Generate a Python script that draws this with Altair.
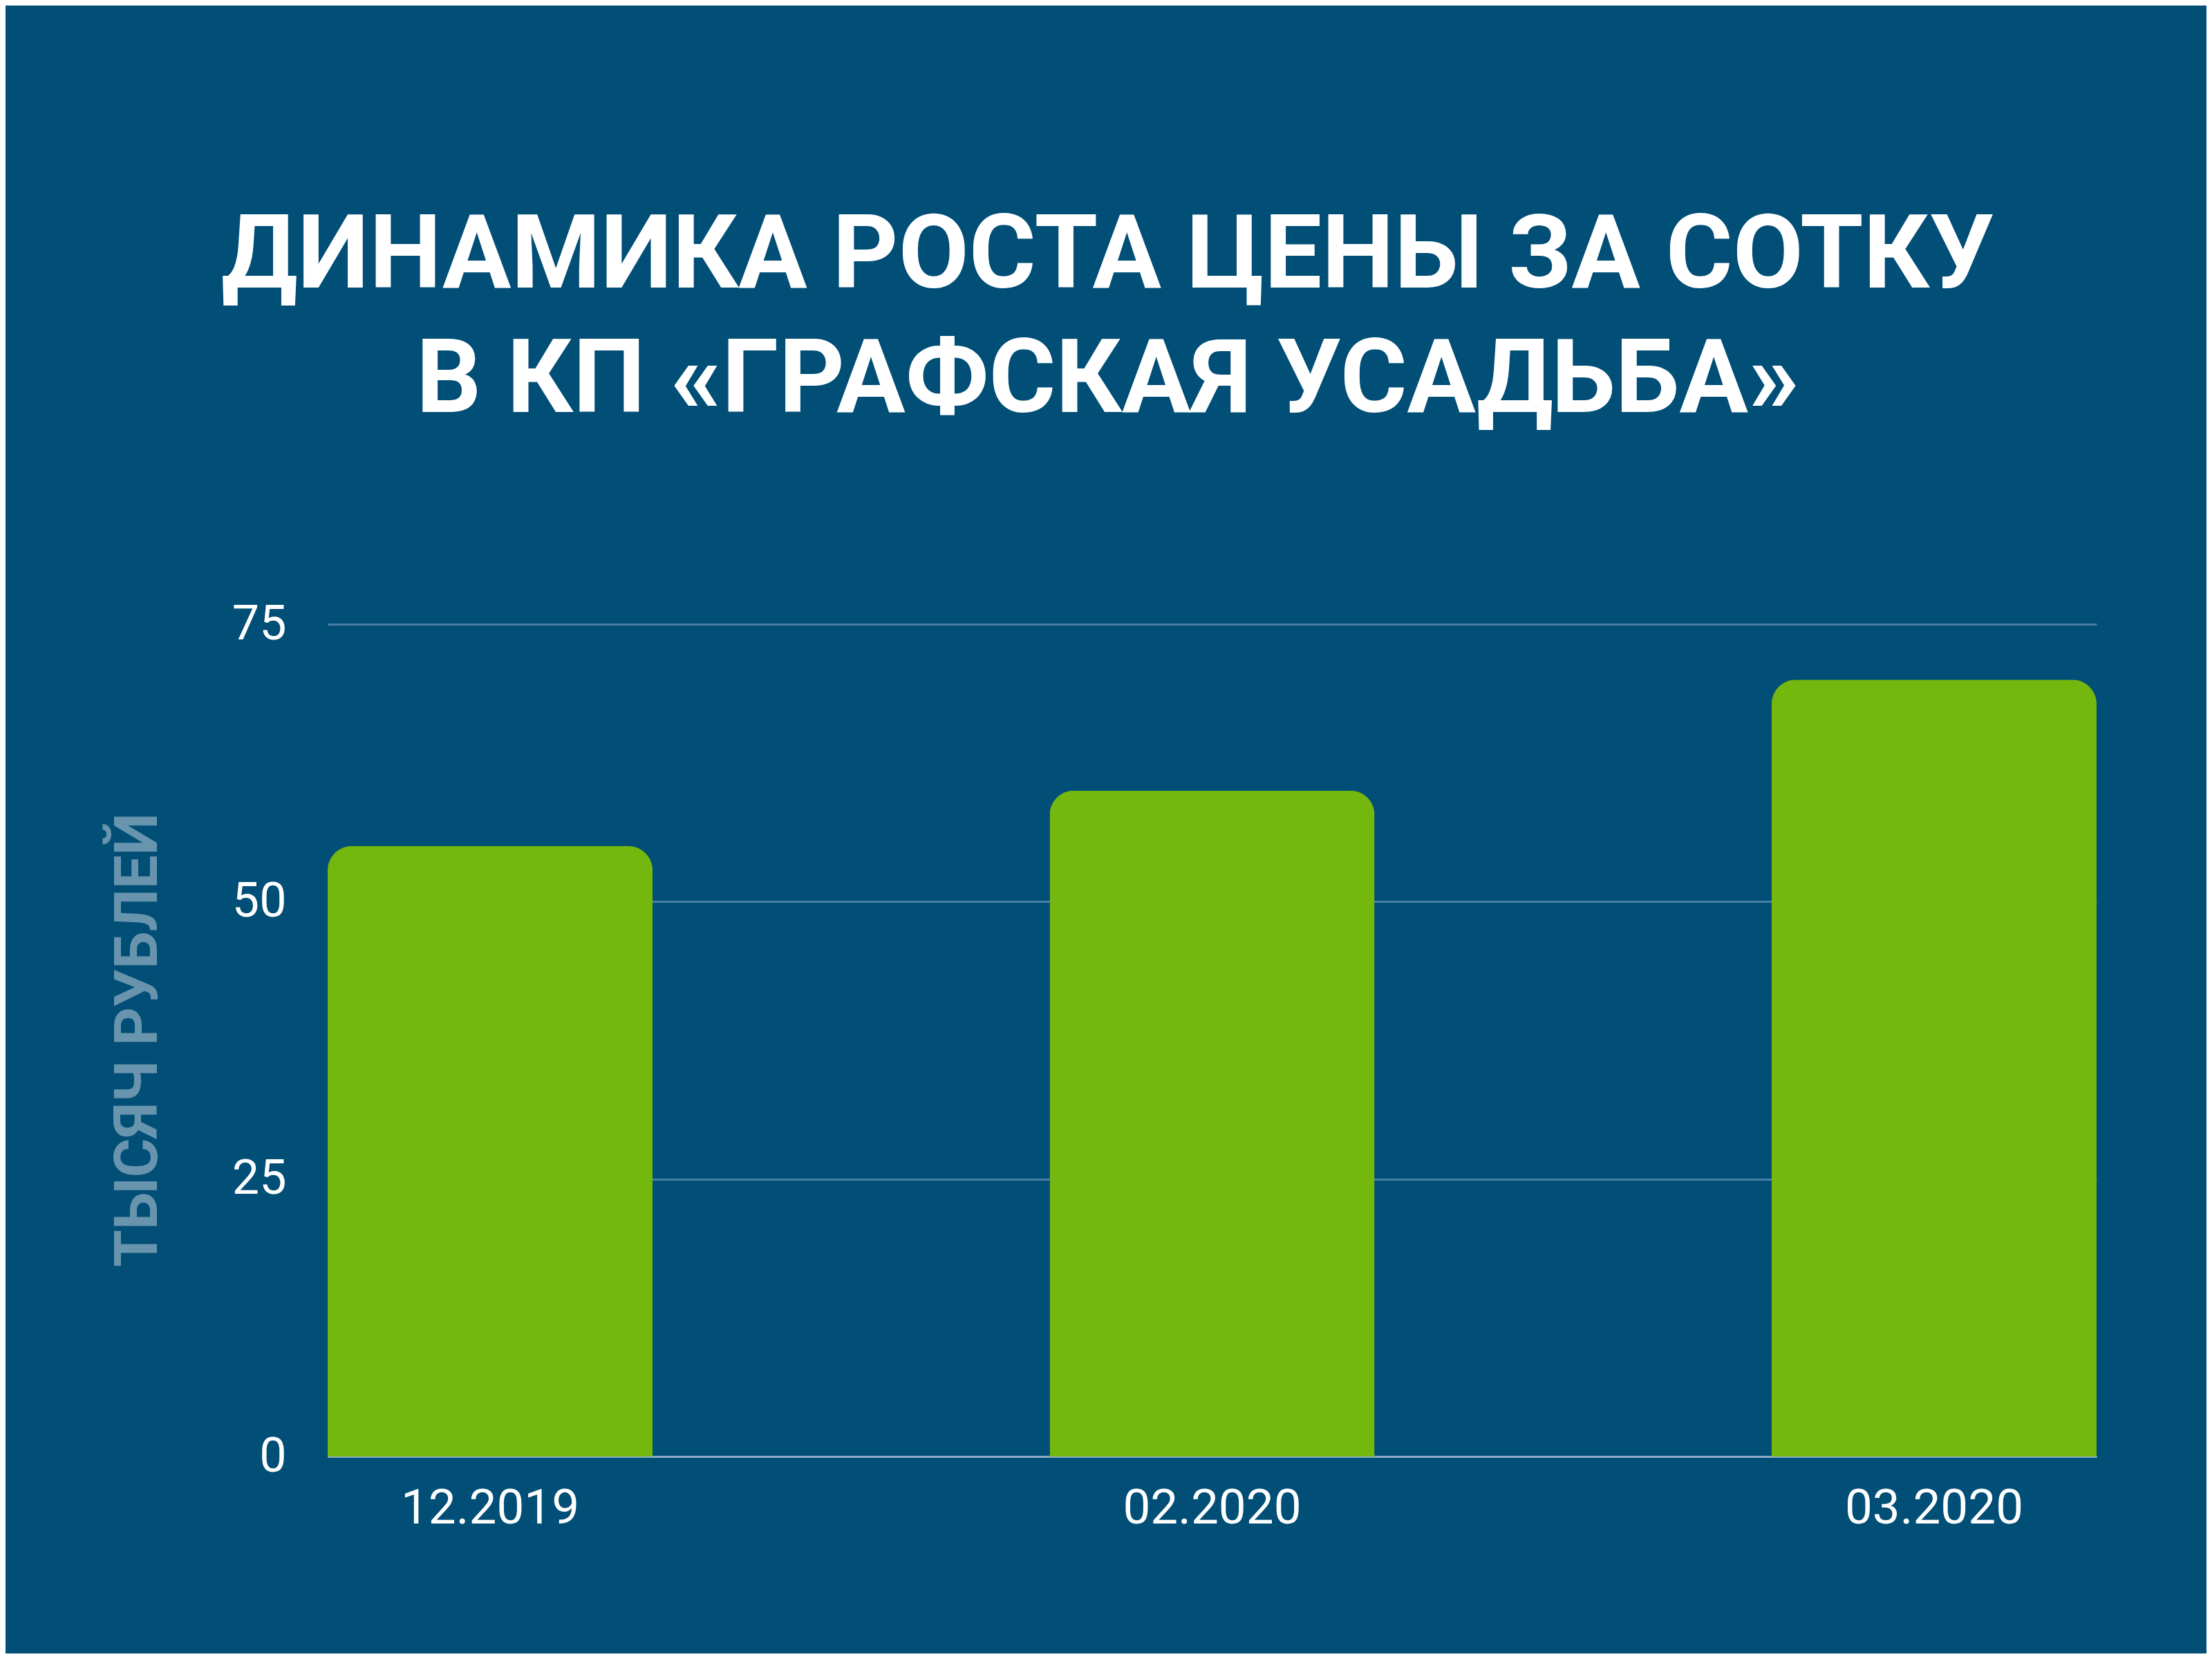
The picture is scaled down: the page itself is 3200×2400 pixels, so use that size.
import altair as alt
import pandas as pd

periods = ["12.2019", "02.2020", "03.2020"]
prices = [55, 60, 70]
y_ticks = [0, 25, 50, 75]
title_lines = ["ДИНАМИКА РОСТА ЦЕНЫ ЗА СОТКУ", "В КП «ГРАФСКАЯ УСАДЬБА»"]
y_title = "ТЫСЯЧ РУБЛЕЙ"

df = pd.DataFrame({"period": periods, "price": prices})

BG = "#014E77"

chart = (
    alt.Chart(df)
    .mark_bar(color="#74B70E", cornerRadiusTopLeft=35, cornerRadiusTopRight=35)
    .encode(
        x=alt.X(
            "period:N",
            sort=periods,
            scale=alt.Scale(paddingInner=0.55, paddingOuter=0),
            axis=alt.Axis(
                title=None,
                labelAngle=0,
                labelFont="Roboto",
                labelFontSize=71,
                labelColor="white",
                labelPadding=40,
                labelLimit=2000,
                ticks=False,
                tickSize=0,
                domain=True,
                domainColor="#8CACC4",
                domainWidth=3,
                grid=False,
            ),
        ),
        y=alt.Y(
            "price:Q",
            scale=alt.Scale(domain=[0, 75], nice=False),
            axis=alt.Axis(
                title=y_title,
                values=y_ticks,
                labelFont="Roboto",
                labelFontSize=70,
                labelColor="white",
                labelPadding=60,
                labelLimit=2000,
                ticks=False,
                tickSize=0,
                domain=False,
                grid=True,
                gridColor="#4A7FA3",
                gridWidth=3,
                titleFont="Roboto",
                titleFontSize=87,
                titleFontWeight="bold",
                titleColor="#6894AE",
                titleAngle=270,
                titleBaseline="middle",
                titleX=-274,
                titleY=601,
            ),
        ),
    )
    .properties(
        width=2559,
        height=1204,
        background=BG,
        padding={"left": 466, "top": 895, "right": 159, "bottom": 285},
        autosize=alt.AutoSizeParams(type="none"),
        title=alt.TitleParams(
            text=title_lines,
            font="Roboto",
            fontSize=148,
            fontWeight="bold",
            color="white",
            lineHeight=180,
            anchor="middle",
            frame="group",
            dx=-151,
            offset=241,
        ),
    )
    .configure_view(stroke=None)
)

chart.save("out.html", embed_options={"renderer": "svg", "actions": False})
